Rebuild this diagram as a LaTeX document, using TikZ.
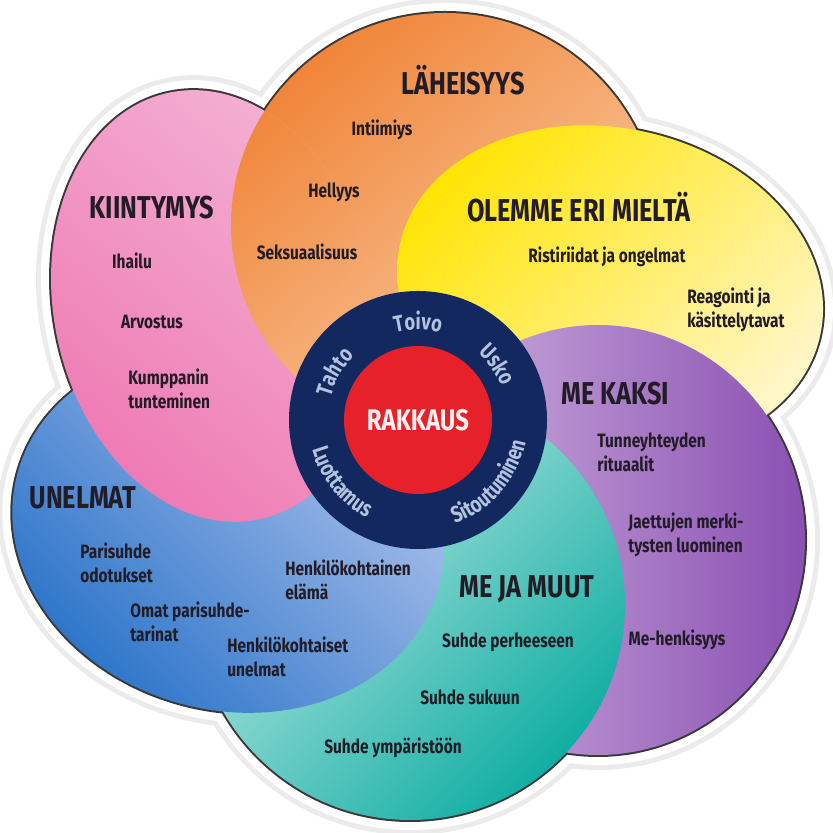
\documentclass[tikz,border=0pt]{standalone}
\usepackage{fontspec}
\setmainfont{Fira Sans}[FakeStretch=0.8]
\usetikzlibrary{decorations.text}

\definecolor{oranssiT}{HTML}{F08539}
\definecolor{oranssiV}{HTML}{FAD0AA}
\definecolor{keltainenT}{HTML}{FFE400}
\definecolor{keltainenV}{HTML}{FFF6C8}
\definecolor{violettiV}{HTML}{D3B8E2}
\definecolor{violettiT}{HTML}{8A50B2}
\definecolor{turkoosiV}{HTML}{CAEDE9}
\definecolor{turkoosiT}{HTML}{12AEA3}
\definecolor{siniV}{HTML}{B8C8EE}
\definecolor{siniT}{HTML}{2B74C9}
\definecolor{ruusuV}{HTML}{F4B2D4}
\definecolor{ruusuT}{HTML}{EE78B2}
\definecolor{rengas}{HTML}{13285E}
\definecolor{punainen}{HTML}{E62129}
\definecolor{rengasteksti}{HTML}{B3C2DE}
\definecolor{tumma}{HTML}{221C26}
\definecolor{reunaviiva}{HTML}{3A3838}

\newcommand\rengasfontti{\color{rengasteksti}\bfseries\fontsize{13}{13}\selectfont}

\begin{document}
\begin{tikzpicture}[x=0.2mm, y=0.2mm,
    otsikko/.style={font=\bfseries\fontsize{18}{20}\selectfont, text=tumma, inner sep=0pt},
    kohta/.style={font=\bfseries\fontsize{11}{13.5}\selectfont, text=tumma, align=left, inner sep=0pt},
    varjo/.style={draw=black!8, line width=6mm},
    valo/.style={draw=white, line width=4mm},
    reuna/.style={draw=reunaviiva, line width=0.8mm},
  ]

    % --- 1. 変数定義 ---
    \def\keskix{418}
    \def\keskiy{413}
    % 花びら: 中心x/中心y/x半径/y半径/回転
    \def\lehdet{445/608/214/212/0, 610/543/215/162/-12, 598/293/207/215/0,
                410/228/215/215/0, 228/303/218/180/-15, 214/527/160/218/12}

    \useasboundingbox (0,0) rectangle (832,833);
    \fill[white] (0,0) rectangle (832,833);

    % --- 2. 花びらの影と輪郭 ---
    \foreach \tyyli in {varjo, valo, reuna} {
        \foreach \px/\py/\rx/\ry/\kulma in \lehdet {
            \path[\tyyli, rotate around={\kulma:(\px,\py)}]
                (\px,\py) ellipse [x radius=\rx, y radius=\ry];
        }
    }

    % --- 3. 花びらの塗り (グラデーション) ---
    \foreach \px/\py/\rx/\ry/\kulma/\ylä/\ala/\sk in {
        445/608/214/212/0/oranssiT/oranssiV/40,
        610/543/215/162/-12/keltainenT/keltainenV/45,
        598/293/207/215/0/violettiV/violettiT/90,
        410/228/215/215/0/turkoosiV/turkoosiT/45,
        228/303/218/180/-15/siniV/siniT/-45,
        214/527/160/218/12/ruusuV/ruusuT/-40} {
        \shade[top color=\ylä, bottom color=\ala, shading angle=\sk,
               rotate around={\kulma:(\px,\py)}]
            (\px,\py) ellipse [x radius=\rx, y radius=\ry];
    }
    % オレンジはピンクの上に重なる
    \begin{scope}
        \clip[rotate around={12:(214,527)}] (214,527) ellipse [x radius=160, y radius=218];
        \shade[top color=oranssiT, bottom color=oranssiV, shading angle=40]
            (445,608) ellipse [x radius=214, y radius=212];
    \end{scope}

    % --- 4. 中心の円 ---
    \fill[rengas] (\keskix,\keskiy) circle [radius=129];
    \fill[punainen] (\keskix,\keskiy) circle [radius=74];
    \node[font=\bfseries\fontsize{17}{17}\selectfont, text=white!94!red] (rakkaus)
        at (\keskix,\keskiy) {RAKKAUS};

    % 輪の文字 (上は時計回り, 下は反時計回り)
    \path[decorate, decoration={text along path, text align=center, text={|\rengasfontti|Toivo}}]
        (\keskix,\keskiy) ++(115:90) arc [start angle=115, end angle=65, radius=90];
    \path[decorate, decoration={text along path, text align=center, text={|\rengasfontti|Usko}}]
        (\keskix,\keskiy) ++(60:90) arc [start angle=60, end angle=10, radius=90];
    \path[decorate, decoration={text along path, text align=center, text={|\rengasfontti|Tahto}}]
        (\keskix,\keskiy) ++(175:90) arc [start angle=175, end angle=125, radius=90];
    \path[decorate, decoration={text along path, text align=center, text={|\rengasfontti|Luottamus}}]
        (\keskix,\keskiy) ++(180:110) arc [start angle=180, end angle=258, radius=110];
    \path[decorate, decoration={text along path, text align=center, text={|\rengasfontti|Sitoutuminen}}]
        (\keskix,\keskiy) ++(276:110) arc [start angle=276, end angle=362, radius=110];

    % --- 5. 見出しと項目 ---
    \node[otsikko] (laheisyys) at (463,753) {LÄHEISYYS};
    \node[kohta] (intiimiys) at (382,703) {Intiimiys};
    \node[kohta] (hellyys) at (334,641) {Hellyys};
    \node[kohta] (seksuaalisuus) at (307,581) {Seksuaalisuus};

    \node[otsikko] (erimielta) at (579,626) {OLEMME ERI MIELTÄ};
    \node[kohta] (ristiriidat) at (607,576) {Ristiriidat ja ongelmat};
    \node[kohta, anchor=west] (reagointi) at (687,523) {Reagointi ja\\käsittelytavat};

    \node[otsikko] (mekaksi) at (615,439) {ME KAKSI};
    \node[kohta, anchor=west] (tunneyhteys) at (597,381) {Tunneyhteyden\\rituaalit};
    \node[kohta, anchor=west] (merkitykset) at (628,298) {Jaettujen merki-\\tysten luominen};
    \node[kohta] (mehenkisyys) at (677,193) {Me-henkisyys};

    \node[otsikko] (mejamuut) at (527,244) {ME JA MUUT};
    \node[kohta] (perhe) at (508,191) {Suhde perheeseen};
    \node[kohta] (suku) at (470,136) {Suhde sukuun};
    \node[kohta] (ymparisto) at (393,85) {Suhde ympäristöön};

    \node[otsikko] (unelmat) at (83,335) {UNELMAT};
    \node[kohta, anchor=west] (odotukset) at (80,270) {Parisuhde\\odotukset};
    \node[kohta, anchor=west] (tarinat) at (130,211) {Omat parisuhde-\\tarinat};
    \node[kohta, anchor=west] (hunelmat) at (227,176) {Henkilökohtaiset\\unelmat};
    \node[kohta, anchor=west] (helama) at (285,253) {Henkilökohtainen\\elämä};

    \node[otsikko] (kiintymys) at (152,625) {KIINTYMYS};
    \node[kohta] (ihailu) at (132,572) {Ihailu};
    \node[kohta] (arvostus) at (152,511) {Arvostus};
    \node[kohta, anchor=west] (kumppani) at (128,444) {Kumppanin\\tunteminen};

\end{tikzpicture}
\end{document}
